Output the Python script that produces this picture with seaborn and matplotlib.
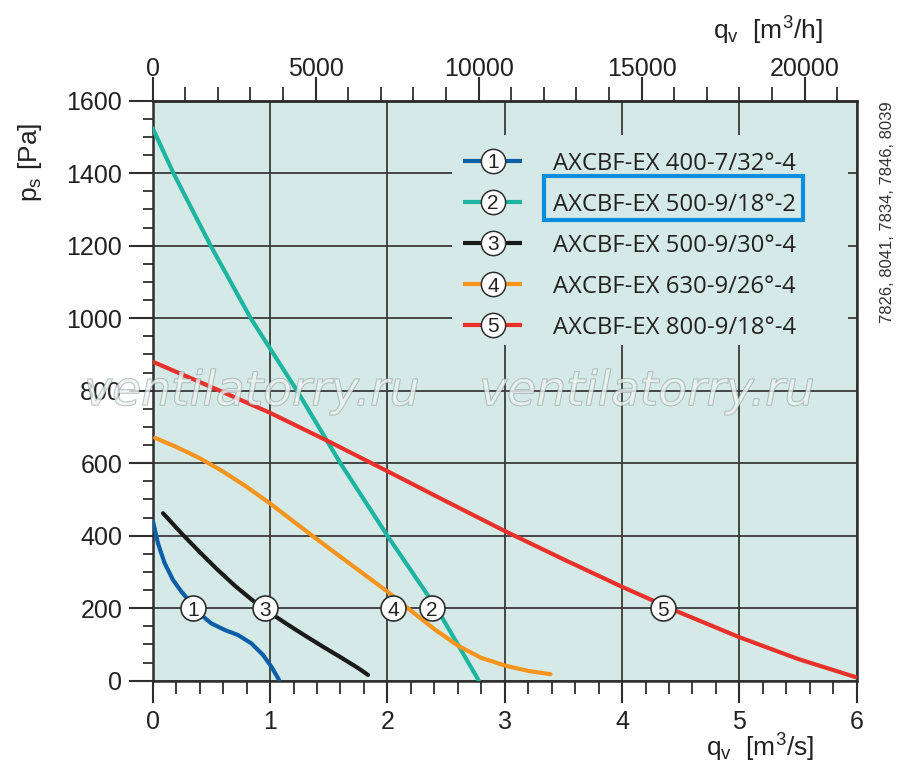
import matplotlib

matplotlib.use("Agg")
import matplotlib.patheffects as pe
import matplotlib.pyplot as plt
import pandas as pd
import seaborn as sns
from matplotlib.patches import Rectangle
from matplotlib.ticker import MultipleLocator


# dane: q_v [m3/s], p_s [Pa]
q1 = [0.003, 0.045, 0.102, 0.173, 0.244, 0.33, 0.414, 0.5, 0.614, 0.727, 0.841, 0.94, 1.011, 1.077]
p1 = [439, 379, 324, 278, 246, 213, 181, 158, 140, 126, 103, 71, 39, 2]

q2 = [0.0, 0.177, 0.494, 0.835, 1.23, 1.6, 2.0, 2.42, 2.78]
p2 = [1524, 1400, 1200, 1000, 800, 600, 400, 200, 0]

q3 = [0.088, 0.25, 0.4, 0.55, 0.7, 0.85, 1.0, 1.15, 1.3, 1.45, 1.6, 1.75, 1.835]
p3 = [462, 405, 355, 307, 262, 222, 187, 155, 124, 94, 65, 35, 16]

q4 = [0.02, 0.2, 0.4, 0.6, 0.8, 1.0, 1.25, 1.5, 1.75, 2.0, 2.17, 2.41, 2.6, 2.8, 3.0, 3.2, 3.39]
p4 = [670, 645, 614, 577, 535, 489, 427, 366, 306, 246, 201, 140, 97, 63, 42, 27, 18]

q5 = [0.0, 0.5, 1.0, 1.5, 2.0, 2.5, 3.0, 3.5, 4.0, 4.5, 5.0, 5.5, 6.0]
p5 = [880, 810, 739, 660, 578, 495, 413, 335, 259, 187, 120, 60, 9]

numbers = ["1", "2", "3", "4", "5"]
models = [
    "AXCBF-EX 400-7/32°-4",
    "AXCBF-EX 500-9/18°-2",
    "AXCBF-EX 500-9/30°-4",
    "AXCBF-EX 630-9/26°-4",
    "AXCBF-EX 800-9/18°-4",
]
colors = ["#0d5ea8", "#1db5a0", "#1a1a1a", "#f7941d", "#e8312a"]

# pozycje oznaczen krzywych (kolka z numerami)
label_q = [0.345, 2.38, 0.96, 2.05, 4.35]
label_p = [200, 200, 200, 200, 200]

x_ticks = [0, 1, 2, 3, 4, 5, 6]
y_ticks = [0, 200, 400, 600, 800, 1000, 1200, 1400, 1600]
top_ticks = [0, 5000, 10000, 15000, 20000]
drawing_codes = "7826, 8041, 7834, 7846, 8039"
watermark = "ventilatorry.ru"

BG = "#d5eae6"
INK = "#2e2e2e"
TXT = "#222222"

# geometria osi w pikselach obrazka 900x777
AX_L, AX_R, AX_T, AX_B = 152.7, 856.7, 100.7, 680.7


def px_to_axes(px, py):
    return (px - AX_L) / (AX_R - AX_L), (AX_B - py) / (AX_B - AX_T)


def main() -> None:
    sns.set_theme(style="ticks")
    plt.rcParams["font.family"] = ["Liberation Sans", "DejaVu Sans"]
    plt.rcParams["mathtext.default"] = "regular"

    frames = []
    for num, q, p in zip(numbers, [q1, q2, q3, q4, q5], [p1, p2, p3, p4, p5]):
        frames.append(pd.DataFrame({"q": q, "p": p, "curve": num}))
    df = pd.concat(frames, ignore_index=True)

    fig = plt.figure(figsize=(9, 7.77), dpi=100)
    ax = fig.add_axes([AX_L / 900, 1 - AX_B / 777, (AX_R - AX_L) / 900, (AX_B - AX_T) / 777])
    ax.set_facecolor(BG)

    sns.lineplot(
        data=df,
        x="q",
        y="p",
        hue="curve",
        palette=dict(zip(numbers, colors)),
        estimator=None,
        sort=False,
        linewidth=3,
        legend=False,
        ax=ax,
        zorder=3,
    )

    ax.set_xlim(0, 6)
    ax.set_ylim(0, 1600)
    ax.set_xticks(x_ticks)
    ax.set_yticks(y_ticks)
    ax.xaxis.set_minor_locator(MultipleLocator(0.2))
    ax.yaxis.set_minor_locator(MultipleLocator(50))
    ax.set_xlabel("")
    ax.set_ylabel("")
    ax.set_axisbelow(True)
    ax.grid(True, which="major", color="#3a3a3a", linewidth=1.3)

    for side in ["left", "right", "top", "bottom"]:
        ax.spines[side].set_visible(True)
        ax.spines[side].set_color(INK)
        ax.spines[side].set_linewidth(1.8)

    ax.tick_params(axis="x", which="major", direction="out", length=16, width=1.5,
                   color=INK, pad=5, labelsize=18, labelcolor=TXT)
    ax.tick_params(axis="x", which="minor", direction="out", length=9, width=1.3, color=INK)
    ax.tick_params(axis="y", which="major", direction="out", length=17, width=1.5,
                   color=INK, pad=5, labelsize=18, labelcolor=TXT)
    ax.tick_params(axis="y", which="minor", direction="out", length=7, width=1.3, color=INK)

    top = ax.secondary_xaxis("top", functions=(lambda x: x * 3600, lambda x: x / 3600))
    top.set_xticks(top_ticks)
    top.xaxis.set_minor_locator(MultipleLocator(1000))
    top.tick_params(axis="x", which="major", direction="out", length=17, width=1.5,
                    color=INK, pad=-3, labelsize=18, labelcolor=TXT)
    top.tick_params(axis="x", which="minor", direction="out", length=10, width=1.3, color=INK)
    top.spines["top"].set_linewidth(1.8)
    top.spines["top"].set_color(INK)

    # oznaczenia krzywych
    ax.scatter(label_q, label_p, s=18 ** 2, c="white", edgecolors=INK, linewidths=1.2, zorder=5)
    for num, q, p in zip(numbers, label_q, label_p):
        ax.text(q, p, num, ha="center", va="center_baseline", fontsize=15, color=TXT, zorder=6)

    # legenda rysowana recznie: tlo zaslania siatke
    x0, y0 = px_to_axes(452, 345)
    x1, y1 = px_to_axes(848, 135)
    ax.add_patch(Rectangle((x0, y0), x1 - x0, y1 - y0, transform=ax.transAxes,
                           facecolor=BG, edgecolor="none", zorder=4))
    rows_y = [160.7, 201.7, 243, 284, 325]
    for num, model, c, ry in zip(numbers, models, colors, rows_y):
        la, ya = px_to_axes(463, ry)
        lb, _ = px_to_axes(522, ry)
        lc, _ = px_to_axes(493, ry)
        lt, _ = px_to_axes(553, ry)
        ax.plot([la, lb], [ya, ya], transform=ax.transAxes, color=c, linewidth=3,
                solid_capstyle="butt", zorder=6)
        ax.plot([lc], [ya], transform=ax.transAxes, linestyle="", marker="o", markersize=17.5,
                markerfacecolor="white", markeredgecolor=INK, markeredgewidth=1.1, zorder=7)
        ax.text(lc, ya, num, transform=ax.transAxes, ha="center", va="center_baseline",
                fontsize=15, color=TXT, zorder=8)
        ax.text(lt, ya, model, transform=ax.transAxes, ha="left", va="center_baseline",
                fontsize=17.2, family="Open Sans", color=TXT, zorder=8)

    # ramka wokol wybranego modelu
    fig.patches.append(Rectangle((544 / 900, 1 - 220 / 777), 259 / 900, 44.3 / 777,
                                 transform=fig.transFigure, fill=False,
                                 edgecolor="#0a8ee0", linewidth=3, zorder=10))

    # opisy osi
    fig.text(30 / 900, 1 - 162 / 777, r"p$_\mathregular{s}$ [Pa]", rotation=90,
             ha="center", va="center", fontsize=19, color=TXT)
    fig.text(760 / 900, 1 - 748 / 777, r"q$_\mathregular{v}$  [m$^\mathregular{3}$/s]",
             ha="center", va="center", fontsize=19, color=TXT)
    fig.text(768 / 900, 1 - 31 / 777, r"q$_\mathregular{v}$  [m$^\mathregular{3}$/h]",
             ha="center", va="center", fontsize=19, color=TXT)
    fig.text(887 / 900, 1 - 212 / 777, drawing_codes, rotation=90, ha="center", va="center",
             fontsize=12, color="#333333")

    # znak wodny
    for xc in [252, 647]:
        fig.text(xc / 900, 1 - 405 / 777, watermark, ha="center", va="baseline",
                 fontsize=34, style="italic", family="DejaVu Sans", color="#eef6f4",
                 alpha=0.55, zorder=7,
                 path_effects=[pe.withStroke(linewidth=1.0, foreground="#7f8b8b")])

    fig.savefig("out.png", dpi=100)
    plt.close(fig)


if __name__ == "__main__":
    main()
